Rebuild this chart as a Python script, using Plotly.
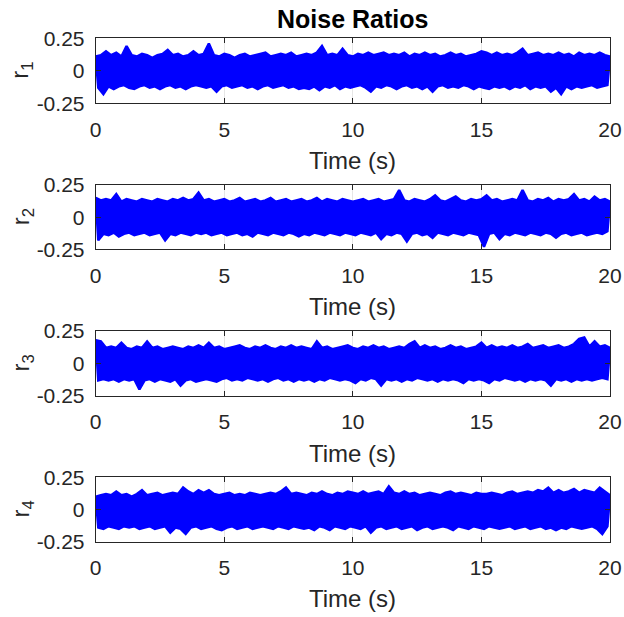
import numpy as np
import plotly.graph_objects as go

TIME_END = 20.0

# Noise-ratio envelopes: local maxima (every 0.2 s starting at 0)
# and local minima (every 0.2 s starting at 0.1 s) of each residual signal.
r1_peaks = [0.11, 0.12, 0.15, 0.12, 0.14, 0.11, 0.19, 0.12, 0.11, 0.13,
            0.12, 0.10, 0.12, 0.13, 0.16, 0.12, 0.13, 0.11, 0.12, 0.15,
            0.12, 0.13, 0.21, 0.12, 0.11, 0.13, 0.12, 0.10, 0.12, 0.13,
            0.11, 0.12, 0.13, 0.14, 0.11, 0.12, 0.13, 0.12, 0.14, 0.11,
            0.12, 0.13, 0.12, 0.14, 0.19, 0.12, 0.13, 0.12, 0.17, 0.12,
            0.11, 0.13, 0.12, 0.14, 0.12, 0.13, 0.14, 0.12, 0.13, 0.12,
            0.14, 0.11, 0.13, 0.12, 0.14, 0.12, 0.13, 0.11, 0.12, 0.14,
            0.12, 0.13, 0.11, 0.12, 0.13, 0.15, 0.14, 0.12, 0.14, 0.12,
            0.13, 0.12, 0.14, 0.17, 0.12, 0.13, 0.14, 0.12, 0.13, 0.12,
            0.14, 0.12, 0.13, 0.11, 0.14, 0.12, 0.13, 0.12, 0.14, 0.12, 0.11]
r1_troughs = [-0.13, -0.18, -0.12, -0.14, -0.12, -0.11, -0.13, -0.14, -0.12, -0.11,
              -0.13, -0.12, -0.14, -0.12, -0.11, -0.13, -0.12, -0.14, -0.12, -0.11,
              -0.12, -0.13, -0.12, -0.16, -0.12, -0.11, -0.13, -0.12, -0.11, -0.13,
              -0.12, -0.14, -0.12, -0.11, -0.13, -0.12, -0.11, -0.13, -0.12, -0.14,
              -0.13, -0.14, -0.12, -0.15, -0.12, -0.13, -0.11, -0.14, -0.12, -0.13,
              -0.12, -0.11, -0.13, -0.16, -0.12, -0.13, -0.11, -0.12, -0.14, -0.12,
              -0.11, -0.13, -0.12, -0.14, -0.12, -0.16, -0.12, -0.11, -0.13, -0.12,
              -0.13, -0.11, -0.12, -0.14, -0.12, -0.13, -0.14, -0.12, -0.13, -0.12,
              -0.14, -0.12, -0.13, -0.11, -0.14, -0.12, -0.13, -0.12, -0.16, -0.13,
              -0.18, -0.12, -0.14, -0.12, -0.13, -0.12, -0.11, -0.13, -0.12, -0.11]

r2_peaks = [0.15, 0.13, 0.14, 0.13, 0.18, 0.12, 0.14, 0.13, 0.12, 0.14,
            0.13, 0.12, 0.14, 0.13, 0.12, 0.14, 0.13, 0.15, 0.13, 0.14,
            0.19, 0.13, 0.14, 0.12, 0.13, 0.14, 0.12, 0.13, 0.15, 0.12,
            0.13, 0.14, 0.12, 0.13, 0.15, 0.12, 0.13, 0.14, 0.12, 0.13,
            0.14, 0.12, 0.13, 0.15, 0.12, 0.14, 0.13, 0.12, 0.14, 0.13,
            0.12, 0.13, 0.14, 0.12, 0.13, 0.14, 0.12, 0.13, 0.14, 0.21,
            0.13, 0.12, 0.14, 0.13, 0.12, 0.14, 0.17, 0.13, 0.12, 0.14,
            0.16, 0.13, 0.12, 0.14, 0.13, 0.14, 0.17, 0.13, 0.14, 0.12,
            0.13, 0.14, 0.13, 0.21, 0.13, 0.12, 0.14, 0.13, 0.15, 0.12,
            0.14, 0.13, 0.14, 0.18, 0.13, 0.14, 0.12, 0.16, 0.13, 0.14, 0.12]
r2_troughs = [-0.18, -0.13, -0.14, -0.12, -0.15, -0.13, -0.12, -0.14, -0.13, -0.12,
              -0.14, -0.13, -0.12, -0.18, -0.13, -0.14, -0.12, -0.13, -0.14, -0.12,
              -0.13, -0.12, -0.14, -0.13, -0.12, -0.14, -0.13, -0.12, -0.14, -0.13,
              -0.15, -0.12, -0.13, -0.14, -0.12, -0.13, -0.14, -0.12, -0.13, -0.15,
              -0.13, -0.14, -0.12, -0.13, -0.14, -0.12, -0.13, -0.14, -0.12, -0.13,
              -0.14, -0.12, -0.13, -0.14, -0.12, -0.17, -0.13, -0.14, -0.12, -0.13,
              -0.19, -0.13, -0.12, -0.14, -0.13, -0.16, -0.12, -0.13, -0.14, -0.12,
              -0.13, -0.14, -0.12, -0.13, -0.14, -0.23, -0.13, -0.12, -0.17, -0.13,
              -0.14, -0.12, -0.13, -0.14, -0.12, -0.13, -0.14, -0.12, -0.13, -0.16,
              -0.13, -0.12, -0.14, -0.13, -0.12, -0.14, -0.13, -0.12, -0.13, -0.11]

r3_peaks = [0.18, 0.17, 0.12, 0.13, 0.12, 0.16, 0.12, 0.11, 0.13, 0.12,
            0.17, 0.12, 0.13, 0.11, 0.12, 0.13, 0.12, 0.11, 0.13, 0.12,
            0.14, 0.12, 0.16, 0.12, 0.13, 0.11, 0.12, 0.13, 0.14, 0.12,
            0.11, 0.13, 0.12, 0.14, 0.12, 0.11, 0.13, 0.12, 0.14, 0.12,
            0.13, 0.12, 0.11, 0.17, 0.12, 0.13, 0.11, 0.12, 0.13, 0.14,
            0.12, 0.11, 0.13, 0.12, 0.14, 0.12, 0.13, 0.11, 0.12, 0.13,
            0.12, 0.15, 0.17, 0.12, 0.14, 0.12, 0.13, 0.11, 0.12, 0.14,
            0.12, 0.13, 0.11, 0.12, 0.13, 0.16, 0.12, 0.14, 0.12, 0.13,
            0.12, 0.14, 0.12, 0.13, 0.15, 0.12, 0.13, 0.14, 0.12, 0.13,
            0.14, 0.12, 0.13, 0.15, 0.19, 0.20, 0.13, 0.17, 0.13, 0.14, 0.12]
r3_troughs = [-0.13, -0.12, -0.13, -0.12, -0.14, -0.12, -0.13, -0.12, -0.20, -0.13,
              -0.12, -0.14, -0.12, -0.13, -0.14, -0.12, -0.17, -0.13, -0.12, -0.14,
              -0.13, -0.12, -0.13, -0.14, -0.12, -0.11, -0.13, -0.12, -0.13, -0.11,
              -0.12, -0.13, -0.12, -0.14, -0.12, -0.11, -0.13, -0.12, -0.14, -0.12,
              -0.13, -0.12, -0.14, -0.12, -0.13, -0.11, -0.12, -0.13, -0.12, -0.13,
              -0.15, -0.12, -0.13, -0.11, -0.12, -0.17, -0.12, -0.13, -0.12, -0.14,
              -0.12, -0.13, -0.11, -0.12, -0.13, -0.12, -0.14, -0.12, -0.13, -0.12,
              -0.13, -0.15, -0.12, -0.13, -0.12, -0.13, -0.15, -0.12, -0.13, -0.11,
              -0.12, -0.13, -0.12, -0.14, -0.12, -0.13, -0.12, -0.13, -0.17, -0.12,
              -0.13, -0.12, -0.14, -0.12, -0.13, -0.12, -0.13, -0.12, -0.11, -0.12]

r4_peaks = [0.10, 0.11, 0.12, 0.11, 0.14, 0.11, 0.12, 0.10, 0.12, 0.15,
            0.11, 0.12, 0.13, 0.11, 0.12, 0.13, 0.12, 0.17, 0.14, 0.12,
            0.15, 0.13, 0.15, 0.12, 0.11, 0.12, 0.13, 0.11, 0.12, 0.11,
            0.13, 0.12, 0.11, 0.12, 0.13, 0.12, 0.14, 0.17, 0.12, 0.13,
            0.12, 0.11, 0.13, 0.12, 0.14, 0.12, 0.11, 0.13, 0.12, 0.14,
            0.13, 0.12, 0.14, 0.12, 0.13, 0.14, 0.12, 0.18, 0.13, 0.12,
            0.14, 0.12, 0.13, 0.11, 0.12, 0.13, 0.12, 0.11, 0.13, 0.14,
            0.12, 0.13, 0.12, 0.11, 0.13, 0.12, 0.12, 0.13, 0.12, 0.11,
            0.13, 0.14, 0.12, 0.13, 0.14, 0.13, 0.15, 0.14, 0.17, 0.13,
            0.15, 0.13, 0.14, 0.16, 0.13, 0.15, 0.14, 0.13, 0.17, 0.14, 0.11]
r4_troughs = [-0.14, -0.15, -0.13, -0.14, -0.15, -0.13, -0.14, -0.13, -0.15, -0.14,
              -0.13, -0.15, -0.14, -0.13, -0.18, -0.14, -0.15, -0.19, -0.14, -0.13,
              -0.15, -0.14, -0.13, -0.15, -0.16, -0.14, -0.13, -0.15, -0.14, -0.13,
              -0.15, -0.14, -0.13, -0.14, -0.15, -0.13, -0.14, -0.15, -0.13, -0.14,
              -0.15, -0.14, -0.16, -0.13, -0.14, -0.16, -0.13, -0.14, -0.15, -0.13,
              -0.14, -0.15, -0.13, -0.18, -0.14, -0.13, -0.15, -0.14, -0.13, -0.15,
              -0.14, -0.13, -0.16, -0.14, -0.13, -0.15, -0.14, -0.13, -0.14, -0.16,
              -0.13, -0.14, -0.15, -0.13, -0.14, -0.15, -0.13, -0.14, -0.15, -0.14,
              -0.13, -0.15, -0.14, -0.13, -0.15, -0.14, -0.13, -0.15, -0.14, -0.16,
              -0.14, -0.15, -0.13, -0.14, -0.15, -0.14, -0.13, -0.15, -0.19, -0.13]

SERIES = [("r<sub>1</sub>", r1_peaks, r1_troughs),
          ("r<sub>2</sub>", r2_peaks, r2_troughs),
          ("r<sub>3</sub>", r3_peaks, r3_troughs),
          ("r<sub>4</sub>", r4_peaks, r4_troughs)]

X_TICKS = [0, 5, 10, 15, 20]
Y_TICKS = [-0.25, 0, 0.25]
Y_TICK_TEXT = ["-0.25", "0", "0.25"]

W, H = 624, 617
FONT = "Liberation Sans, Arial, sans-serif"
AX_COLOR = "#262626"
TRACE_BLUE = "#0000ff"

# pixel boxes of the four stacked axes (top, bottom)
X_LEFT, X_RIGHT = 95.7, 610.0
PANELS_PX = [(38.3, 103.3), (185.0, 249.3), (331.0, 396.0), (477.3, 541.7)]


def envelope_band(peaks, troughs):
    """Closed outline: maxima left-to-right, then minima right-to-left."""
    t_peak = np.linspace(0.0, TIME_END, len(peaks))
    half = (t_peak[1] - t_peak[0]) / 2.0
    t_trough = t_peak[:len(troughs)] + half
    t = np.concatenate([t_peak, t_trough[::-1], t_peak[:1]])
    v = np.concatenate([peaks, troughs[::-1], peaks[:1]])
    return t, v


fig = go.Figure()
annotations = []
xdom = [X_LEFT / W, X_RIGHT / W]

for k, (label, peaks, troughs) in enumerate(SERIES, start=1):
    t, v = envelope_band(np.array(peaks), np.array(troughs))
    fig.add_trace(go.Scatter(
        x=t, y=v, mode="lines", fill="toself", fillcolor=TRACE_BLUE,
        line=dict(color=TRACE_BLUE, width=2.5, simplify=False),
        xaxis=f"x{k}", yaxis=f"y{k}", showlegend=False, hoverinfo="skip"))

    top, bot = PANELS_PX[k - 1]
    ydom = [1 - bot / H, 1 - top / H]
    common = dict(showline=True, linecolor=AX_COLOR, linewidth=1, mirror="ticks",
                  ticks="inside", ticklen=5, tickcolor=AX_COLOR, zeroline=False,
                  showgrid=True, gridcolor="#e6e6e6", gridwidth=1, automargin=False,
                  tickfont=dict(family=FONT, size=21, color=AX_COLOR))
    fig.update_layout(**{
        f"xaxis{k}": dict(domain=xdom, anchor=f"y{k}", range=[0, TIME_END],
                          tickvals=X_TICKS, ticklabelstandoff=7, **common),
        f"yaxis{k}": dict(domain=ydom, anchor=f"x{k}", range=[-0.25, 0.25],
                          tickvals=Y_TICKS, ticktext=Y_TICK_TEXT,
                          ticklabelstandoff=6, **common),
    })

    annotations.append(dict(
        text="Time (s)", xref="paper", yref="paper",
        x=(X_LEFT + X_RIGHT) / 2 / W, y=1 - (bot + 57) / H,
        xanchor="center", yanchor="middle", showarrow=False,
        font=dict(family=FONT, size=24, color=AX_COLOR)))
    annotations.append(dict(
        text=label, xref="paper", yref="paper", textangle=-90,
        x=22 / W, y=1 - (top + bot) / 2 / H,
        xanchor="center", yanchor="middle", showarrow=False,
        font=dict(family=FONT, size=24, color=AX_COLOR)))

annotations.append(dict(
    text="<b>Noise Ratios</b>", xref="paper", yref="paper",
    x=(X_LEFT + X_RIGHT) / 2 / W, y=1 - 18.5 / H,
    xanchor="center", yanchor="middle", showarrow=False,
    font=dict(family=FONT, size=25, color="#000000")))

fig.update_layout(
    width=W, height=H,
    margin=dict(l=0, r=0, t=0, b=0),
    paper_bgcolor="white", plot_bgcolor="white",
    annotations=annotations,
)

fig.write_html("out.html")
